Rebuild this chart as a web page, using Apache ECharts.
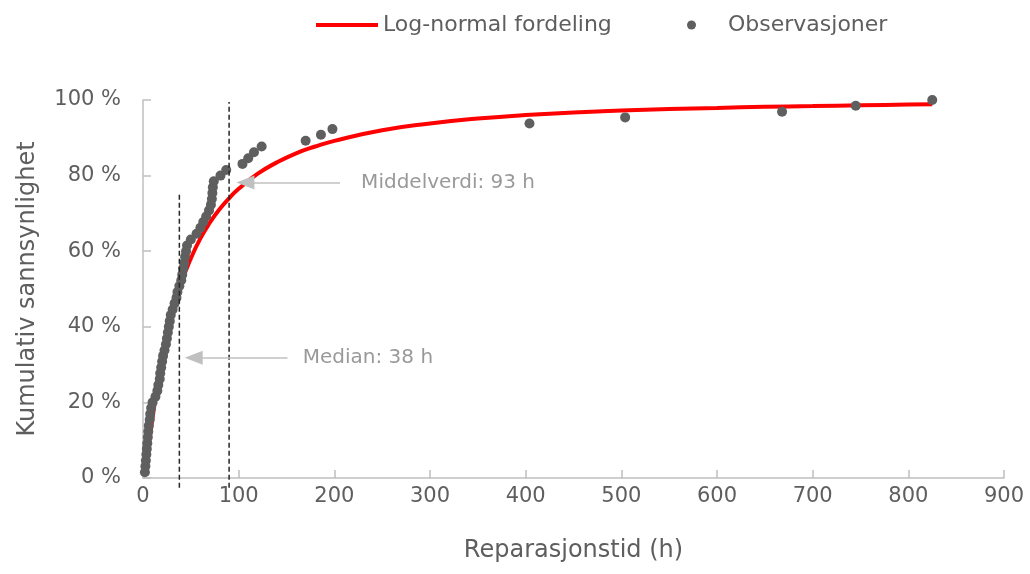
<!DOCTYPE html>
<html>
<head>
<meta charset="utf-8">
<script src="https://cdn.jsdelivr.net/npm/echarts@6/dist/echarts.min.js"></script>
<style>
  html, body { margin: 0; padding: 0; background: #fff; }
  #chart { width: 1030px; height: 574px; }
</style>
</head>
<body>
<div id="chart"></div>
<script>
// reparasjonstid (h) for hver observasjon, sortert
const obsHours = [2, 2.5, 3, 3.5, 4, 4.5, 5, 5.5, 6, 7, 7.5, 8.5, 10, 13, 15, 16, 17.5, 18, 19, 20,
  21, 22.5, 24, 25, 26, 27, 28, 29, 31, 33, 35, 36, 38, 40, 41, 42, 43, 44, 45, 46,
  50, 56, 60, 63, 66, 69, 71, 72, 72.5, 73, 74, 81, 87, 104, 110, 116, 124, 170, 186, 198,
  404, 504, 668, 745, 825];
// kumulativ sannsynlighet (%)
const obsProb = [1.5, 3.1, 4.6, 6.2, 7.7, 9.2, 10.8, 12.3, 13.8, 15.4, 16.9, 18.5, 20.0, 21.5, 23.1, 24.6, 26.2, 27.7, 29.2, 30.8,
  32.3, 33.8, 35.4, 36.9, 38.5, 40.0, 41.5, 43.1, 44.6, 46.2, 47.7, 49.2, 50.8, 52.3, 53.8, 55.4, 56.9, 58.5, 60.0, 61.5,
  63.1, 64.6, 66.2, 67.7, 69.2, 70.8, 72.3, 73.8, 75.4, 76.9, 78.5, 80.0, 81.5, 83.1, 84.6, 86.2, 87.7, 89.2, 90.8, 92.3,
  93.8, 95.4, 96.9, 98.5, 100];

// log-normal kurve lest av bildet
const curveHours = [2, 4, 6, 8, 10, 15, 20, 25, 30, 40, 50, 60, 70, 80, 90, 100, 120, 140, 160, 180,
  200, 250, 300, 350, 400, 450, 500, 550, 600, 650, 700, 750, 800, 825];
const curveProb = [1.4, 4.6, 8.4, 12.2, 15.9, 24.4, 31.6, 37.7, 43.0, 51.5, 58.1, 63.4, 67.6, 71.1, 74.0, 76.5, 80.5, 83.5, 85.9, 87.7,
  89.2, 92.0, 93.8, 95.1, 96.0, 96.7, 97.2, 97.6, 97.9, 98.2, 98.4, 98.6, 98.8, 98.9];

const medianLine = [[38, -2.6], [38, 75.7]];
const meanLine = [[90, -2.6], [90, 99.5]];
const meanArrow = [[206, 78.2], [107, 78.2]];
const medianArrow = [[151, 31.8], [53, 31.8]];
const notes = [
  { name: 'Middelverdi: 93 h', value: [228, 78.2] },
  { name: 'Median: 38 h', value: [167, 31.8] }
];

const toPairs = (xs, ys) => xs.map((x, i) => [x, ys[i]]);
const font = 'DejaVu Sans, sans-serif';
const axisGray = '#bfbfbf';
const textGray = '#5e5e5e';

const chart = echarts.init(document.getElementById('chart'));
chart.setOption({
  animation: false,
  textStyle: { fontFamily: font },
  grid: { left: 143, right: 26, top: 100, bottom: 96 },
  legend: [
    {
      data: [{ name: 'Log-normal fordeling', icon: 'rect' }],
      left: 311, top: 9,
      itemWidth: 62, itemHeight: 4,
      textStyle: { fontSize: 22, color: textGray, fontFamily: font }
    },
    {
      data: [{ name: 'Observasjoner', icon: 'circle' }],
      left: 682, top: 9,
      itemWidth: 9, itemHeight: 9,
      textStyle: { fontSize: 22, color: textGray, fontFamily: font, padding: [0, 0, 0, 27] }
    }
  ],
  xAxis: {
    type: 'value', min: 0, max: 900, interval: 100,
    name: 'Reparasjonstid (h)', nameLocation: 'middle', nameGap: 61,
    nameTextStyle: { fontSize: 24, color: textGray },
    axisLine: { lineStyle: { color: axisGray, width: 1.5 } },
    axisTick: { inside: true, length: 8, lineStyle: { color: axisGray, width: 1.5 } },
    axisLabel: { fontSize: 21, color: textGray, margin: 8 },
    splitLine: { show: false }
  },
  yAxis: {
    type: 'value', min: 0, max: 100, interval: 20,
    name: 'Kumulativ sannsynlighet', nameLocation: 'middle', nameGap: 103,
    nameTextStyle: { fontSize: 24, color: textGray },
    axisLine: { show: true, lineStyle: { color: axisGray, width: 1.5 } },
    axisTick: { show: true, inside: true, length: 8, lineStyle: { color: axisGray, width: 1.5 } },
    axisLabel: { fontSize: 21, color: textGray, margin: 22, formatter: v => v + ' %' },
    splitLine: { show: false }
  },
  series: [
    {
      name: 'Log-normal fordeling', type: 'line',
      data: toPairs(curveHours, curveProb),
      smooth: true, showSymbol: false,
      lineStyle: { color: '#ff0000', width: 4 },
      itemStyle: { color: '#ff0000' },
      z: 2
    },
    {
      name: 'Observasjoner', type: 'scatter',
      data: toPairs(obsHours, obsProb),
      symbolSize: 10,
      itemStyle: { color: '#5f5f5f', opacity: 1 },
      z: 3
    },
    {
      type: 'line', data: medianLine, showSymbol: false, clip: false, silent: true,
      lineStyle: { color: '#262626', width: 1.5, type: [5, 3] }, z: 4
    },
    {
      type: 'line', data: meanLine, showSymbol: false, clip: false, silent: true,
      lineStyle: { color: '#262626', width: 1.5, type: [5, 3] }, z: 4
    },
    {
      type: 'line', data: [], silent: true,
      markLine: {
        silent: true, animation: false,
        symbol: ['none', 'triangle'], symbolSize: [14, 18],
        label: { show: false },
        lineStyle: { color: '#c0c0c0', width: 1.5, type: 'solid' },
        data: [
          [{ coord: meanArrow[0] }, { coord: meanArrow[1] }],
          [{ coord: medianArrow[0] }, { coord: medianArrow[1] }]
        ]
      },
      z: 5
    },
    {
      type: 'scatter', data: notes, symbolSize: 0, silent: true,
      label: {
        show: true, position: 'right', distance: 0,
        formatter: p => p.name,
        fontSize: 20, color: '#7f7f7f', fontFamily: font
      },
      z: 5
    }
  ]
});
</script>
</body>
</html>
